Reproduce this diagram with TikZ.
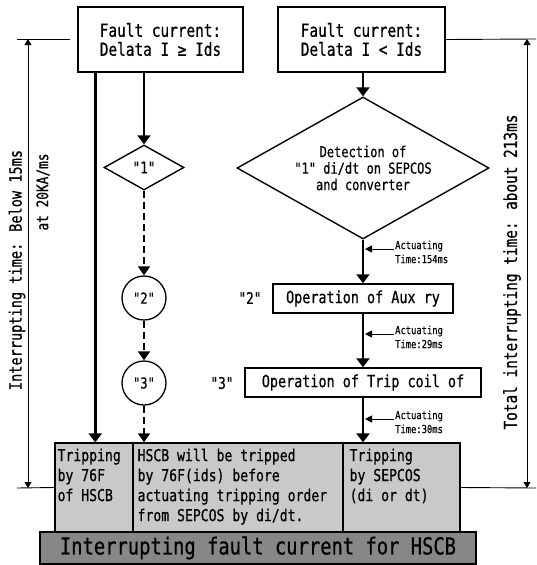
\documentclass[tikz,border=0pt]{standalone}
\usepackage{fontspec}
\usepackage{tikz}
\usetikzlibrary{arrows.meta,shapes.geometric}
\newfontfamily\gul[FakeStretch=0.8,FakeBold=0.6]{DejaVu Sans Mono}
\newcommand{\fs}[1]{\gul\fontsize{#1}{#1}\selectfont}

\begin{document}
\begin{tikzpicture}[x=1pt,y=-1pt,
  box/.style={draw, line width=1.5pt, inner sep=0pt},
  flow/.style={line width=2.6pt, -{Triangle[width=13pt,length=9pt]}},
  dflow/.style={line width=1.6pt, dash pattern=on 7pt off 4pt, -{Triangle[width=12pt,length=9pt]}},
  dim/.style={line width=0.9pt, {Triangle[width=7pt,length=6pt]}-{Triangle[width=7pt,length=6pt]}},
  tick/.style={line width=0.9pt},
  act/.style={line width=1pt, -{Triangle[width=7pt,length=7pt]}},
  tripbox/.style={box, fill=black!21, line width=1.2pt},
  btxt/.style={font=\gul\fontsize{16.4}{20}\selectfont, align=left, inner sep=0pt, anchor=north west}]
\useasboundingbox (0,0) rectangle (536,565);

% fault current boxes
\node[box, minimum width=165pt, minimum height=65pt, align=center,
  font=\gul\fontsize{18}{19}\selectfont] (fa) at (160.5,39.5) {Fault current:\\Delata I ≥ Ids};
\node[box, minimum width=167pt, minimum height=65pt, align=center,
  font=\gul\fontsize{18}{19}\selectfont] (fb) at (361.5,39.5) {Fault current:\\Delata I < Ids};

% left branch
\node[draw, diamond, line width=1.4pt, minimum width=80pt, minimum height=45pt,
  inner sep=0pt, font=\fs{16}] (d1) at (144,167.5) {"1"};
\node[draw, circle, line width=1.3pt, minimum size=44pt, inner sep=0pt, font=\fs{15}] (c2) at (144,298) {"2"};
\node[draw, circle, line width=1.3pt, minimum size=44pt, inner sep=0pt, font=\fs{15}] (c3) at (144,383) {"3"};

% right branch
\node[draw, diamond, line width=1.4pt, minimum width=252pt, minimum height=142pt, aspect=1.77,
  inner sep=0pt, align=center, font=\gul\fontsize{15}{16.5}\selectfont] (d2) at (363,168)
  {Detection of\\"1" di/dt on SEPCOS\\and converter};
\node[box, minimum width=180pt, minimum height=29pt, font=\fs{16.8}] (aux) at (363,298.5) {Operation of Aux ry};
\node[box, minimum width=236pt, minimum height=29pt, font=\fs{16.8}] (trip) at (363,382.5) {Operation of Trip coil of};
\node[font=\fs{16}] (l2) at (250,298) {"2"};
\node[font=\fs{16}] (l3) at (222,383) {"3"};

% result boxes
\node[tripbox, minimum width=78pt, minimum height=89pt] (tA) at (94,487.5) {};
\node[tripbox, minimum width=210pt, minimum height=89pt] (tB) at (238,487.5) {};
\node[tripbox, minimum width=117pt, minimum height=89pt] (tC) at (401.5,487.5) {};
\node[btxt] (tAt) at ([xshift=3pt,yshift=-6pt]tA.north west) {Tripping\\by 76F\\of HSCB};
\node[btxt] (tBt) at ([xshift=5pt,yshift=-6pt]tB.north west) {HSCB will be tripped\\by 76F(ids) before\\actuating tripping order\\from SEPCOS by di/dt.};
\node[btxt] (tCt) at ([xshift=7pt,yshift=-6pt]tC.north west) {Tripping\\by SEPCOS\\(di or dt)};
\node[box, fill=black!47, minimum width=436pt, minimum height=32pt, font=\fs{23.5}] (bar) at (258,548)
  {Interrupting fault current for HSCB};

% flow
\draw[flow] ([xshift=18pt]fa.south west) -- ([xshift=18pt]fa.south west |- tA.north);
\draw[flow] (fa.south -| d1.north) -- (d1.north);
\draw[dflow] (d1.south) -- (c2.north);
\draw[dflow] (c2.south) -- (c3.north);
\draw[dflow] (c3.south) -- (c3.south |- tB.north);
\draw[flow] (d2.north |- fb.south) -- (d2.north);
\draw[flow] (d2.south) -- (aux.north);
\draw[flow] (aux.south) -- (trip.north);
\draw[flow] (trip.south) -- (trip.south |- tC.north);

% actuating times
\foreach \ya/\tm in {249/154, 334/29, 419/30} {
  \coordinate (act-\tm) at (394,\ya);
  \draw[act, shorten >=2pt] (act-\tm) -- (act-\tm -| d2.south);
  \node[anchor=north west, inner sep=0pt, align=left, font=\gul\fontsize{11}{14}\selectfont]
    (acttxt-\tm) at (395,\ya-8.5) {Actuating\\Time:\tm ms};
}

% interrupting times
\coordinate (lt) at (28,39);
\coordinate (lb) at (28,488);
\coordinate (rt) at (527,39);
\coordinate (rb) at (527,488);
\draw[tick] (17,39) -- (70,39);
\draw[tick] (tA.west) -- (17,488);
\draw[dim] (lt) -- (lb);
\draw[tick] (fb.east) -- (536,39);
\draw[tick] (tC.east) -- (536,488);
\draw[dim] (rt) -- (rb);
\node[rotate=90, font=\fs{17}] (it1) at (17,270) {Interrupting time: Below 15ms};
\node[rotate=90, font=\fs{16}] (it2) at (43,192) {at 20KA/ms};
\node[rotate=90, font=\fs{18}] (it3) at (512,272) {Total interrupting time: about 213ms};
\end{tikzpicture}
\end{document}
